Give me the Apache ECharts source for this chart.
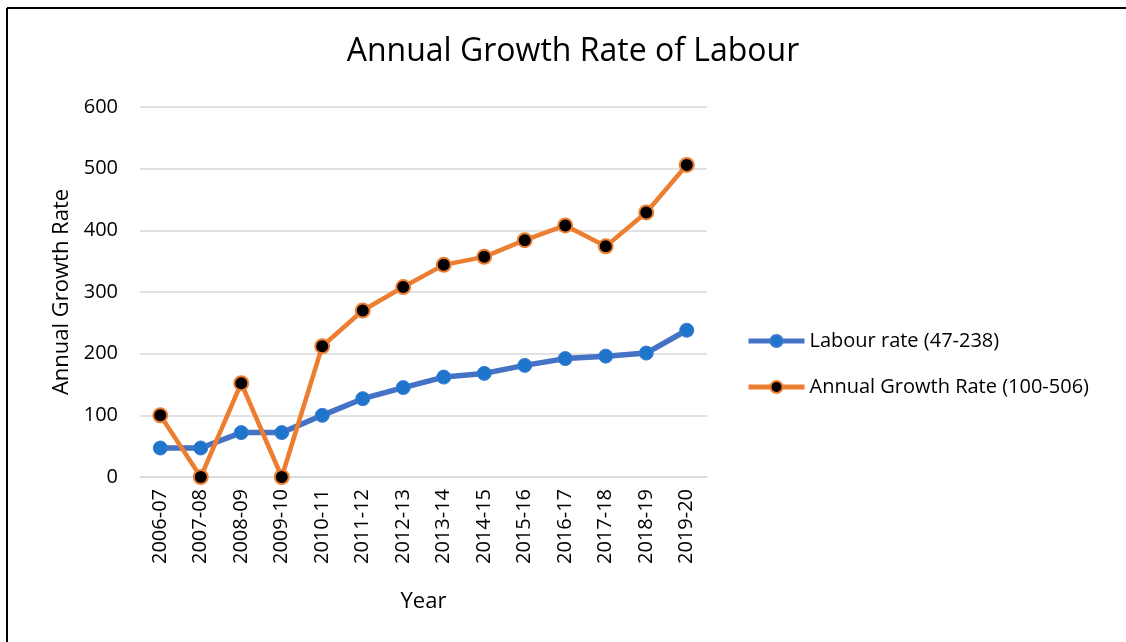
<!DOCTYPE html>
<html><head><meta charset="utf-8">
<script src="https://cdn.jsdelivr.net/npm/echarts@6/dist/echarts.min.js"></script>
<style>html,body{margin:0;padding:0;background:#fff}#c{width:1126px;height:642px}</style>
</head><body><div id="c"></div>
<script>
var categories = ['2006-07','2007-08','2008-09','2009-10','2010-11','2011-12','2012-13','2013-14','2014-15','2015-16','2016-17','2017-18','2018-19','2019-20'];
var labourRate = [47, 47, 72, 72, 100, 127, 145, 162, 168, 181, 192, 196, 201, 238];
var growthRate = [100, 0, 152, 0, 212, 270, 308, 344, 357, 384, 408, 374, 429, 506];
var yTicks = [0, 100, 200, 300, 400, 500, 600];

var font = 'Open Sans';
var chart = echarts.init(document.getElementById('c'), null, {renderer: 'canvas'});
chart.setOption({
  animation: false,
  textStyle: {fontFamily: font},
  title: {text: 'Annual Growth Rate of Labour', left: 568, top: 31, textAlign: 'center',
    textStyle: {fontSize: 32, fontWeight: 'normal', color: '#000', fontFamily: font}},
  graphic: [
    {type: 'line', shape: {x1: 7, y1: 642, x2: 7, y2: 8}, style: {stroke: '#000', lineWidth: 2}},
    {type: 'line', shape: {x1: 7, y1: 8, x2: 1126, y2: 8}, style: {stroke: '#000', lineWidth: 2}}
  ],
  legend: {
    orient: 'vertical', left: 741, top: 326, itemGap: 26, itemWidth: 56, itemHeight: 15,
    textStyle: {fontSize: 20, color: '#000', fontFamily: font},
    data: [
      {name: 'Labour rate (47-238)', lineStyle: {width: 5}},
      {name: 'Annual Growth Rate (100-506)', lineStyle: {width: 5}}
    ]
  },
  grid: {left: 140, right: 419, top: 107, bottom: 165},
  xAxis: {
    type: 'category', data: categories, boundaryGap: true,
    name: 'Year', nameLocation: 'middle', nameGap: 114,
    nameTextStyle: {fontSize: 22, color: '#000', fontFamily: font},
    axisLine: {show: true, lineStyle: {color: '#d9d9d9', width: 1.5}},
    axisTick: {show: false},
    axisLabel: {rotate: 90, fontSize: 20, color: '#000', margin: 12, interval: 0, fontFamily: font}
  },
  yAxis: {
    type: 'value', min: 0, max: 600, interval: 100,
    name: 'Annual Growth Rate', nameLocation: 'middle', nameGap: 66,
    nameTextStyle: {fontSize: 22, color: '#000', fontFamily: font},
    axisLine: {show: false}, axisTick: {show: false},
    axisLabel: {fontSize: 20, color: '#000', margin: 22, fontFamily: font,
      formatter: function (v) { return yTicks.indexOf(v) >= 0 ? String(v) : ''; }},
    splitLine: {lineStyle: {color: '#d9d9d9', width: 1.5}}
  },
  series: [
    {name: 'Labour rate (47-238)', type: 'line', data: labourRate,
      symbol: 'circle', symbolSize: 14,
      lineStyle: {color: '#4472C4', width: 5.5},
      itemStyle: {color: '#1F74CC', borderColor: '#3A7BD0', borderWidth: 1}},
    {name: 'Annual Growth Rate (100-506)', type: 'line', data: growthRate,
      symbol: 'circle', symbolSize: 14,
      lineStyle: {color: '#ED7D31', width: 4.5},
      itemStyle: {color: '#000', borderColor: '#ED7D31', borderWidth: 2}}
  ]
});
</script></body></html>
